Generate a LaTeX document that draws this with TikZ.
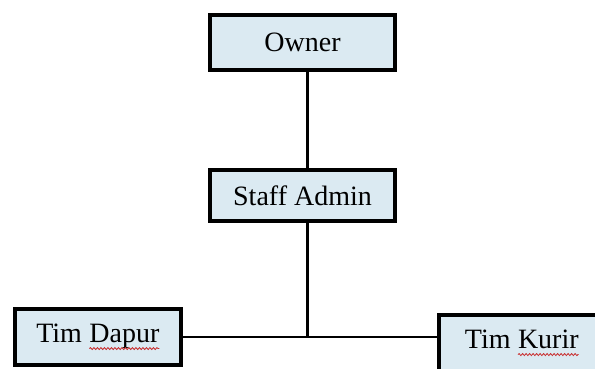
\documentclass[tikz,border=0pt]{standalone}
\usepackage{fontspec}
\setmainfont{Liberation Serif}
\usepackage{tikz}
\usetikzlibrary{positioning,calc,decorations.pathmorphing}
\definecolor{boxBlue}{RGB}{219,234,242}
\definecolor{wavRed}{RGB}{200,40,40}
\newcommand{\spellmark}[1]{\tikz[baseline=(w.base)]{\node[draw=none, fill=none, inner sep=0pt, outer sep=0pt, minimum width=0pt, minimum height=0pt] (w) {#1};
	\draw[wavRed, line width=0.8pt, decorate, decoration={snake, amplitude=1pt, segment length=3.5pt}] ([yshift=-6pt]w.base west) -- ([yshift=-6pt]w.base east);}}
\tikzset{
	obox/.style={
		draw=black,
		fill=boxBlue,
		line width=3.5pt,
		inner sep=0pt,
		align=center,
		minimum width=185pt,
		minimum height=55pt,
		font=\fontsize{28}{30}\selectfont
	},
	oline/.style={line width=3pt, black}
}

\begin{document}
\begin{tikzpicture}[x=1pt, y=-1pt]
		\clip (0,0) rectangle (595,369);
		\node[obox] (owner) at (302.5,42.5) {Owner};
		\node[obox, minimum height=51pt] (staff) at (302.5,195.5) {Staff Admin};
		\node[obox, minimum width=166pt, minimum height=56pt] (dapur) at (98,337) {Tim \spellmark{Dapur}};
		\node[obox, minimum width=180pt, minimum height=56pt] (kurir) at (529,343) {Tim \spellmark{Kurir}\hspace*{14pt}};
		\coordinate (jn) at (307.5,337);
		\draw[oline] (owner.south -| jn) -- (staff.north -| jn);
		\draw[oline] (staff.south -| jn) -- (jn);
		\draw[oline, line width=2.5pt] (dapur.east) -- (kurir.west |- dapur.east);
	\end{tikzpicture}
\end{document}
